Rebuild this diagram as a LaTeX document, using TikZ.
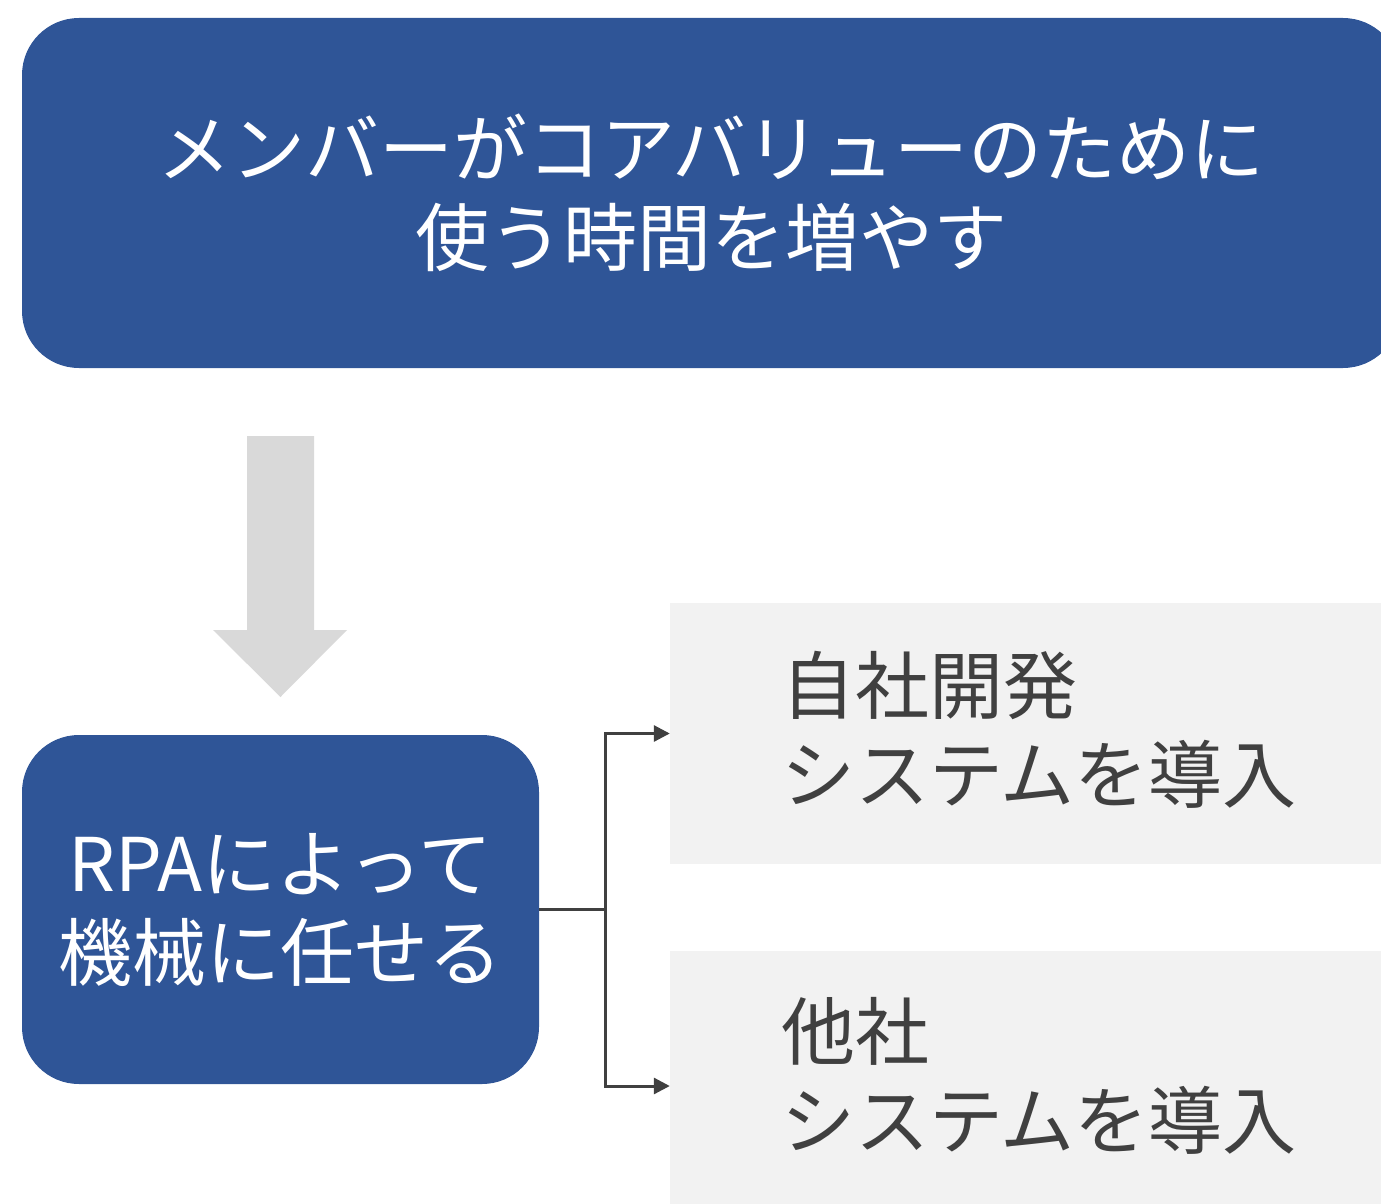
\documentclass[tikz,border=0pt]{standalone}
\usepackage{fontspec}
\setmainfont{Noto Sans CJK JP}
\usetikzlibrary{arrows.meta,positioning}
\usepackage{xcolor}
\definecolor{rpablue}{HTML}{2F5597}
\definecolor{arrowgray}{HTML}{D9D9D9}
\definecolor{optiongray}{HTML}{F2F2F2}
\definecolor{linegray}{HTML}{404040}

\tikzset{
  bluebox/.style={rectangle, rounded corners=57pt, fill=rpablue, text=white,
    align=center, inner sep=0pt, font=\fontsize{74}{89}\selectfont},
  optionbox/.style={rectangle, fill=optiongray, inner sep=0pt,
    minimum width=711pt},
  optiontext/.style={anchor=west, align=left, text=linegray, inner sep=0pt,
    font=\fontsize{74}{89}\selectfont},
  branch/.style={draw=linegray, line width=3pt},
}

\begin{document}
\begin{tikzpicture}[x=1pt,y=-1pt]
\useasboundingbox (0,0) rectangle (1381,1204);
\clip (0,0) rectangle (1381,1204);

\node[bluebox, minimum width=1378pt, minimum height=350pt] (goal) at (711,193)
  {メンバーがコアバリューのために\\使う時間を増やす};

% big down arrow
\fill[arrowgray] (247,436) -- (314,436) -- (314,630) -- (347,630) -- (280.5,697)
  -- (213,630) -- (247,630) -- cycle;

\node[bluebox, minimum width=517pt, minimum height=349pt] (rpa) at (280.5,909.5)
  {RPAによって\\機械に任せる};

\node[optionbox, minimum height=261pt] (own) at (1025.5,733.5) {};
\node[optiontext] (ownlabel) at (781,730) {自社開発\\システムを導入};

\node[optionbox, minimum height=270pt] (other) at (1025.5,1086) {};
\node[optiontext] (otherlabel) at (781,1076) {他社\\システムを導入};

\draw[branch] (rpa.east) -- ++(66,0) coordinate (fork);
\draw[branch, -{Triangle[length=16pt,width=16pt]}] (fork) |- (own.west);
\draw[branch, -{Triangle[length=16pt,width=16pt]}] (fork) |- (other.west);
\end{tikzpicture}
\end{document}
